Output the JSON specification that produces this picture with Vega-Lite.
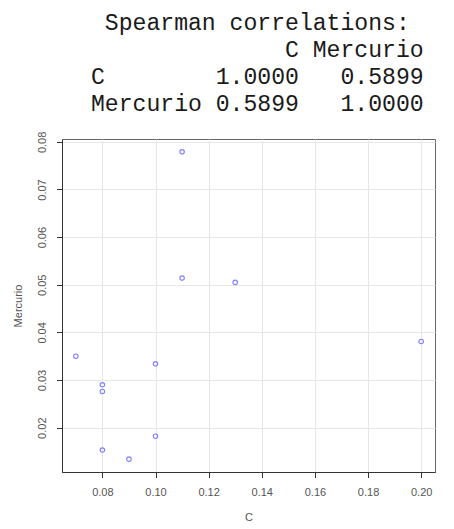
{
  "$schema": "https://vega.github.io/schema/vega-lite/v6.json",
  "width": 373,
  "height": 333,
  "autosize": {"type": "none"},
  "padding": {"left": 62, "top": 139, "right": 19, "bottom": 57},
  "background": "white",
  "title": {
    "text": [
      "\u200b\u00a0Spearman correlations:",
      "\u200b\u00a0\u00a0\u00a0\u00a0\u00a0\u00a0\u00a0\u00a0\u00a0\u00a0\u00a0\u00a0\u00a0\u00a0C Mercurio",
      "C\u00a0\u00a0\u00a0\u00a0\u00a0\u00a0\u00a0\u00a01.0000\u00a0\u00a0\u00a00.5899",
      "Mercurio 0.5899\u00a0\u00a0\u00a01.0000"
    ],
    "anchor": "start",
    "frame": "group",
    "orient": "top",
    "baseline": "bottom",
    "font": "Liberation Mono",
    "fontSize": 23.1,
    "fontWeight": "normal",
    "lineHeight": 27,
    "color": "#1a1a1a",
    "dx": 29,
    "dy": 21,
    "offset": 13
  },
  "config": {
    "view": {"stroke": "#666666", "strokeWidth": 1},
    "axis": {
      "domainColor": "#333333",
      "tickColor": "#333333",
      "tickSize": 5.5,
      "gridColor": "#e6e6e6",
      "gridWidth": 1,
      "labelFont": "Liberation Sans",
      "labelFontSize": 11,
      "labelColor": "#555555",
      "labelPadding": 9,
      "titleFont": "Liberation Sans",
      "titleFontSize": 11,
      "titleFontWeight": "normal",
      "titleColor": "#555555"
    }
  },
  "data": {
    "values": [
      {"C": 0.07, "Mercurio": 0.0350},
      {"C": 0.08, "Mercurio": 0.0290},
      {"C": 0.08, "Mercurio": 0.0276},
      {"C": 0.08, "Mercurio": 0.0153},
      {"C": 0.09, "Mercurio": 0.0134},
      {"C": 0.10, "Mercurio": 0.0334},
      {"C": 0.10, "Mercurio": 0.0182},
      {"C": 0.11, "Mercurio": 0.0779},
      {"C": 0.11, "Mercurio": 0.0514},
      {"C": 0.13, "Mercurio": 0.0505},
      {"C": 0.20, "Mercurio": 0.0381}
    ]
  },
  "mark": {"type": "point", "filled": false, "color": "#7f7fff", "size": 20, "strokeWidth": 1.1, "opacity": 1},
  "encoding": {
    "x": {
      "field": "C",
      "type": "quantitative",
      "scale": {"domain": [0.0648, 0.2052], "nice": false, "zero": false},
      "axis": {
        "values": [0.08, 0.10, 0.12, 0.14, 0.16, 0.18, 0.20],
        "format": ".2f",
        "title": "C",
        "titlePadding": 14
      }
    },
    "y": {
      "field": "Mercurio",
      "type": "quantitative",
      "scale": {"domain": [0.0107, 0.0806], "nice": false, "zero": false},
      "axis": {
        "values": [0.02, 0.03, 0.04, 0.05, 0.06, 0.07, 0.08],
        "format": ".2f",
        "labelAngle": -90,
        "title": "Mercurio",
        "titlePadding": 13
      }
    }
  }
}
